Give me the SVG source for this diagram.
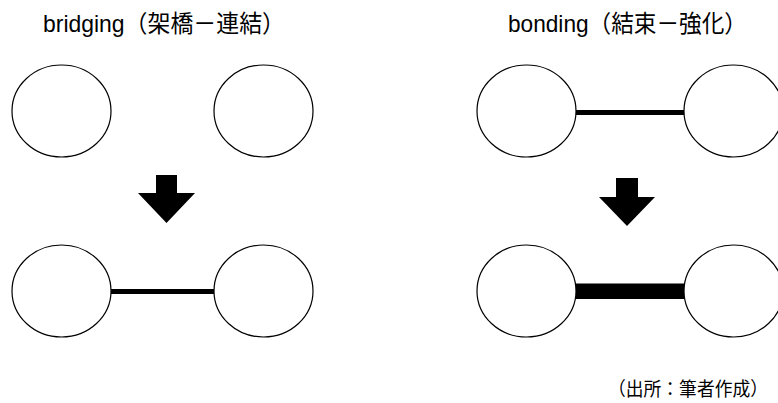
<svg xmlns="http://www.w3.org/2000/svg" width="778" height="403" viewBox="0 0 778 403">
  <style>
    .node { fill: #ffffff; stroke: #000000; stroke-width: 1.2; }
    .title { font-family: "Liberation Sans", "Noto Sans CJK JP", sans-serif; font-size: 24px; fill: #000000; }
    .note { font-family: "Noto Sans CJK JP", "Liberation Sans", sans-serif; font-size: 19px; fill: #000000; }
    .link { stroke: #000000; fill: none; }
    .arrow { fill: #000000; }
  </style>
  <rect x="0" y="0" width="778" height="403" fill="#ffffff"/>

  <text class="title" x="43" y="32" textLength="242" lengthAdjust="spacingAndGlyphs">bridging（架橋－連結）</text>
  <text class="title" x="508" y="32" textLength="239" lengthAdjust="spacingAndGlyphs">bonding（結束－強化）</text>
  <text class="note" x="608" y="396" textLength="160" lengthAdjust="spacingAndGlyphs">（出所：筆者作成）</text>

  <g id="connectors">
    <line class="link" x1="576" y1="112.5" x2="684" y2="112.5" stroke-width="5"/>
    <line class="link" x1="111" y1="291.5" x2="214" y2="291.5" stroke-width="5"/>
    <rect x="576" y="283.5" width="109" height="15.5" fill="#000000"/>
  </g>

  <g id="arrow-left">
    <polygon class="arrow" points="156,175 177,175 177,193 195,193 166.5,223 138,193 156,193"/>
  </g>
  <g id="arrow-right">
    <polygon class="arrow" points="616,178 638,178 638,197 655,197 627,226 599,197 616,197"/>
  </g>

  <g id="bridging-top-left"><ellipse class="node" cx="61.5" cy="111" rx="49.5" ry="46"/></g>
  <g id="bridging-top-right"><ellipse class="node" cx="263.5" cy="111" rx="49.5" ry="46"/></g>
  <g id="bridging-bottom-left"><ellipse class="node" cx="61.5" cy="291" rx="49.5" ry="46"/></g>
  <g id="bridging-bottom-right"><ellipse class="node" cx="263.5" cy="291" rx="49.5" ry="46"/></g>

  <g id="bonding-top-left"><ellipse class="node" cx="526.5" cy="111" rx="49.5" ry="46"/></g>
  <g id="bonding-top-right"><ellipse class="node" cx="733.5" cy="111" rx="49.5" ry="46"/></g>
  <g id="bonding-bottom-left"><ellipse class="node" cx="526.5" cy="291" rx="49.5" ry="46"/></g>
  <g id="bonding-bottom-right"><ellipse class="node" cx="733.5" cy="291" rx="49.5" ry="46"/></g>
</svg>
